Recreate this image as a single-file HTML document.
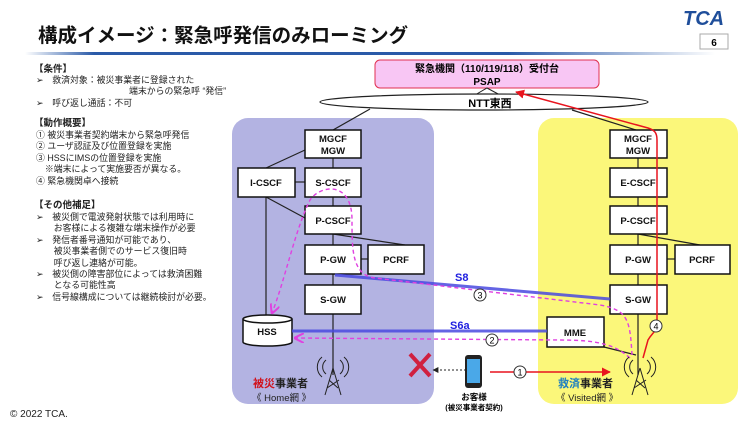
<html><head><style>
body{margin:0;width:750px;height:422px;background:#fff;overflow:hidden;font-family:"Liberation Sans","Noto Sans CJK JP",sans-serif}
svg{position:absolute;left:0;top:0}
.t{position:absolute;font-size:8.9px;color:#222;white-space:nowrap;line-height:11.4px}
.h{font-weight:bold;font-size:9.5px}
</style></head><body>
<svg width="750" height="422" viewBox="0 0 750 422" font-family="Liberation Sans, Noto Sans CJK JP, sans-serif">
<defs>
<linearGradient id="g" x1="0" x2="1"><stop offset="0" stop-color="#fff"/><stop offset="0.1" stop-color="#2a5aa8"/><stop offset="0.7" stop-color="#2a5aa8"/><stop offset="1" stop-color="#fff"/></linearGradient>
<marker id="ar" viewBox="0 0 10 10" refX="9" refY="5" markerWidth="6" markerHeight="6" orient="auto"><path d="M0 0L10 5L0 10z" fill="#e8141e"/></marker>
<marker id="ap" viewBox="0 0 10 10" refX="9" refY="5" markerWidth="7" markerHeight="7" orient="auto"><path d="M0 0L10 5L0 10" fill="none" stroke="#e040e0" stroke-width="2"/></marker>
<marker id="ak" viewBox="0 0 10 10" refX="9" refY="5" markerWidth="6" markerHeight="6" orient="auto"><path d="M0 0L10 5L0 10z" fill="#222"/></marker>
</defs>
<text x="38" y="42" font-size="19.5" font-weight="bold" fill="#111">構成イメージ：緊急呼発信のみローミング</text>
<rect x="25" y="52" width="690" height="3" fill="url(#g)"/>
<text x="683" y="25" font-size="20" font-weight="bold" font-style="italic" fill="#1f4e9a">TCA</text>
<rect x="700" y="34" width="28" height="15" fill="#fff" stroke="#aaa"/>
<text x="714" y="46" font-size="10" font-weight="bold" text-anchor="middle">6</text>
<rect x="232" y="118" width="202" height="286" rx="16" fill="#b3b3e2"/>
<rect x="538" y="118" width="200" height="286" rx="16" fill="#fbf77a"/>
<rect x="375" y="60" width="224" height="28" rx="5" fill="#f8c6f4" stroke="#e03050"/>
<text x="487" y="72" font-size="10" font-weight="bold" text-anchor="middle">緊急機関（110/119/118）受付台</text>
<text x="487" y="85" font-size="10" font-weight="bold" text-anchor="middle">PSAP</text>
<path d="M475 95L487 88L500 95" fill="none" stroke="#222"/>
<ellipse cx="484" cy="102" rx="164" ry="8" fill="#fff" stroke="#222" stroke-width="1.2"/>
<text x="490" y="107" font-size="11" font-weight="bold" text-anchor="middle">NTT東西</text>
<g stroke="#222" stroke-width="1.2" fill="none">
<path d="M333 130L370 109"/><path d="M636 130L572 110"/>
<path d="M333 130V375"/><path d="M305 150L266 168"/><path d="M266 197V318"/><path d="M266 197L305 218"/>
<path d="M295 182H305"/><path d="M333 234L405 245"/><path d="M361 259H368"/>
<path d="M638 158V375"/><path d="M638 234L700 245"/><path d="M667 259H675"/><path d="M604 347L636 355"/>
</g>
<g stroke="#111" stroke-width="1.5" fill="#fff">
<rect x="305" y="130" width="56" height="28"/><rect x="238" y="168" width="57" height="29"/><rect x="305" y="168" width="56" height="29"/>
<rect x="305" y="206" width="56" height="28"/><rect x="305" y="245" width="56" height="29"/><rect x="368" y="245" width="56" height="29"/>
<rect x="305" y="285" width="56" height="29"/>
<rect x="610" y="130" width="57" height="28"/><rect x="610" y="168" width="57" height="29"/><rect x="610" y="206" width="57" height="28"/>
<rect x="610" y="245" width="57" height="29"/><rect x="675" y="245" width="55" height="29"/><rect x="610" y="285" width="57" height="29"/>
<rect x="547" y="317" width="57" height="30"/>
<path d="M243 319V342A24.5 4 0 0 0 292 342V319"/><ellipse cx="267.5" cy="319" rx="24.5" ry="4"/>
</g>
<g font-size="9.5" font-weight="bold" text-anchor="middle" fill="#111">
<text x="333" y="142">MGCF</text><text x="333" y="154">MGW</text>
<text x="266" y="186">I-CSCF</text><text x="333" y="186">S-CSCF</text><text x="333" y="224">P-CSCF</text>
<text x="333" y="263">P-GW</text><text x="396" y="263">PCRF</text><text x="333" y="303">S-GW</text>
<text x="267" y="335">HSS</text>
<text x="638" y="142">MGCF</text><text x="638" y="154">MGW</text>
<text x="638" y="186">E-CSCF</text><text x="638" y="224">P-CSCF</text><text x="638" y="263">P-GW</text>
<text x="702" y="263">PCRF</text><text x="638" y="303">S-GW</text><text x="575" y="336">MME</text>
</g>
<path d="M335 275L610 299" stroke="#4a4ae0" stroke-width="3" opacity="0.85"/>
<path d="M292 331H547" stroke="#4a4ae0" stroke-width="3" opacity="0.85"/>
<text x="455" y="281" font-size="11" font-weight="bold" fill="#2020e0">S8</text>
<text x="450" y="329" font-size="11" font-weight="bold" fill="#2020e0">S6a</text>
<g stroke="#e040e0" stroke-width="1.4" stroke-dasharray="4 3" fill="none">
<path d="M632 355C630 320 628 310 600 305L375 278C352 275 352 250 352 220C352 180 320 185 310 200C295 230 285 280 272 313" marker-end="url(#ap)"/>
<path d="M630 358C615 345 600 340 560 340L295 338" marker-end="url(#ap)"/>
</g>
<circle cx="480" cy="295" r="6" fill="#fff" stroke="#333"/><text x="480" y="298.5" font-size="9" text-anchor="middle">3</text>
<circle cx="492" cy="340" r="6" fill="#fff" stroke="#333"/><text x="492" y="343.5" font-size="9" text-anchor="middle">2</text>
<path d="M490 372H610" stroke="#e8141e" stroke-width="1.5" marker-end="url(#ar)"/>
<circle cx="520" cy="372" r="6" fill="#fff" stroke="#333"/><text x="520" y="375.5" font-size="9" text-anchor="middle">1</text>
<path d="M643 358L648 340C652 333 656 332 657 325V140C657 132 654 130 648 128L516 92" stroke="#e8141e" stroke-width="1.5" fill="none" marker-end="url(#ar)"/>
<circle cx="656" cy="326" r="6" fill="#fff" stroke="#333"/><text x="656" y="329.5" font-size="9" text-anchor="middle">4</text>
<path d="M470 370H433" stroke="#222" stroke-dasharray="2 2" marker-end="url(#ak)"/>
<path d="M410 354L430 376M430 354L410 376" stroke="#d02040" stroke-width="4"/>
<rect x="465" y="355" width="17" height="33" rx="3" fill="#222"/><rect x="467" y="359" width="13" height="24" fill="#4aa8e8"/>
<g stroke="#222" fill="none" stroke-width="1">
<path d="M333 368L325 395M333 368L341 395M327 388L339 380M329 380L338 388"/>
<path d="M326 360A9 9 0 0 0 326 374M340 360A9 9 0 0 1 340 374M322 357A13 13 0 0 0 322 377M344 357A13 13 0 0 1 344 377"/>
<path d="M640 368L632 395M640 368L648 395M634 388L646 380M636 380L645 388"/>
<path d="M633 360A9 9 0 0 0 633 374M647 360A9 9 0 0 1 647 374M629 357A13 13 0 0 0 629 377M651 357A13 13 0 0 1 651 377"/>
</g>
<text x="253" y="387" font-size="11" font-weight="bold"><tspan fill="#d0141e">被災</tspan><tspan fill="#222">事業者</tspan></text>
<text x="252" y="401" font-size="9.5" fill="#222">《 Home網 》</text>
<text x="558" y="387" font-size="11" font-weight="bold"><tspan fill="#2080c0">救済</tspan><tspan fill="#222">事業者</tspan></text>
<text x="556" y="401" font-size="9.5" fill="#222">《 Visited網 》</text>
<text x="474" y="400" font-size="8.5" font-weight="bold" text-anchor="middle">お客様</text>
<text x="474" y="410" font-size="7.5" font-weight="bold" text-anchor="middle">(被災事業者契約)</text>
<text x="10" y="417" font-size="10" fill="#222">© 2022 TCA.</text>
</svg>
<div class="t h" style="left:34px;top:64px">【条件】</div>
<div class="t" style="left:36px;top:75px">➢　救済対象：被災事業者に登録された<br><span style="padding-left:93px">端末からの緊急呼 “発信”</span><br>➢　呼び返し通話：不可</div>
<div class="t h" style="left:34px;top:118px">【動作概要】</div>
<div class="t" style="left:36px;top:130px">① 被災事業者契約端末から緊急呼発信<br>② ユーザ認証及び位置登録を実施<br>③ HSSにIMSの位置登録を実施<br>　※端末によって実施要否が異なる。<br>④ 緊急機関卓へ接続</div>
<div class="t h" style="left:34px;top:200px">【その他補足】</div>
<div class="t" style="left:36px;top:212px">➢　被災側で電波発射状態では利用時に<br>　　お客様による複雑な端末操作が必要<br>➢　発信者番号通知が可能であり、<br>　　被災事業者側でのサービス復旧時<br>　　呼び返し連絡が可能。<br>➢　被災側の障害部位によっては救済困難<br>　　となる可能性高<br>➢　信号線構成については継続検討が必要。</div>
</body></html>
